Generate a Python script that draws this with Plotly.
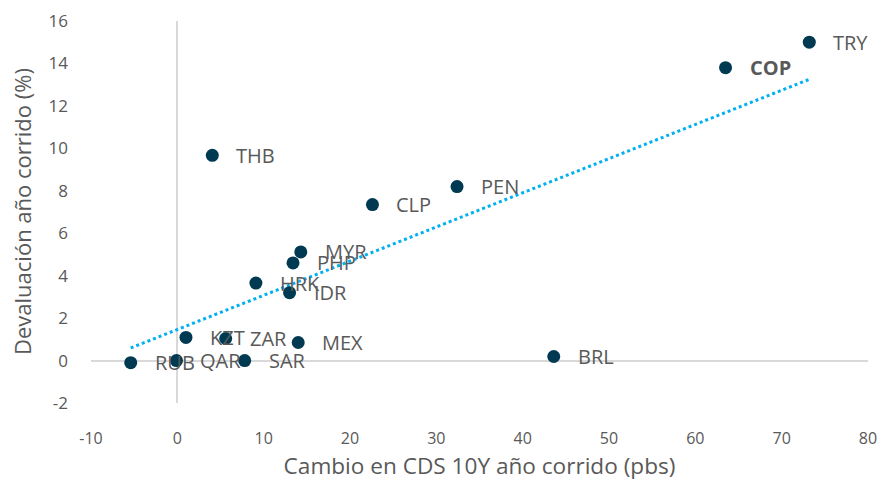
import numpy as np
import plotly.graph_objects as go

labels = ["RUB", "QAR", "KZT", "ZAR", "SAR", "THB", "MEX", "HRK", "IDR",
          "PHP", "MYR", "CLP", "PEN", "BRL", "COP", "TRY"]
cds_change = [-5.4, -0.1, 1.0, 5.6, 7.8, 4.05, 14.0, 9.1, 13.0,
              13.4, 14.3, 22.6, 32.4, 43.6, 63.5, 73.2]
devaluation = [-0.1, 0.0, 1.09, 1.04, 0.0, 9.67, 0.85, 3.65, 3.2,
               4.6, 5.12, 7.35, 8.2, 0.19, 13.8, 15.0]
bold_labels = ["COP"]

x_ticks = [-10, 0, 10, 20, 30, 40, 50, 60, 70, 80]
y_ticks = [-2, 0, 2, 4, 6, 8, 10, 12, 14, 16]

NAVY = "#003A52"
GRAY = "#595959"
CYAN = "#00B0F0"

# Linear trendline (least squares) over the data, like the spreadsheet trendline
slope, intercept = np.polyfit(cds_change, devaluation, 1)
tx = np.array([min(cds_change), max(cds_change)])
ty = slope * tx + intercept

fig = go.Figure()
fig.add_trace(go.Scatter(
    x=tx, y=ty, mode="lines",
    line=dict(color=CYAN, width=3, dash="dot"),
    hoverinfo="skip", showlegend=False))
fig.add_trace(go.Scatter(
    x=cds_change, y=devaluation, mode="markers",
    marker=dict(color=NAVY, size=13),
    showlegend=False))

for lab, xv, yv in zip(labels, cds_change, devaluation):
    txt = f"<b>{lab}</b>" if lab in bold_labels else lab
    fig.add_annotation(x=xv, y=yv, text=txt, showarrow=False,
                       xanchor="left", yanchor="middle", xshift=22,
                       font=dict(family="Open Sans", size=20, color=GRAY))

# Y-axis title placed as rotated annotation to match the reference position
fig.add_annotation(xref="paper", yref="paper", x=0, y=0.5,
                   text="Devaluación año corrido (%)", textangle=-90,
                   showarrow=False, xanchor="center", yanchor="middle",
                   xshift=-69,
                   font=dict(family="Open Sans", size=22, color=GRAY))

fig.update_layout(
    width=896, height=485,
    margin=dict(l=83, r=36, t=13, b=90),
    paper_bgcolor="white", plot_bgcolor="white",
    font=dict(family="Open Sans", color=GRAY),
    xaxis=dict(
        range=[-10, 80], tickvals=x_ticks, ticktext=[str(v) for v in x_ticks],
        showgrid=False, zeroline=True, zerolinecolor="#D9D9D9", zerolinewidth=2,
        showline=False, ticks="", ticklabelstandoff=24, automargin=False,
        tickfont=dict(family="Open Sans", size=16, color=GRAY),
        title=dict(text="Cambio en CDS 10Y año corrido (pbs)", standoff=10,
                   font=dict(family="Open Sans", size=22.6, color=GRAY)),
    ),
    yaxis=dict(
        range=[-2, 16], tickvals=y_ticks, ticktext=[str(v) for v in y_ticks],
        showgrid=False, zeroline=True, zerolinecolor="#D9D9D9", zerolinewidth=2,
        showline=False, ticks="", ticklabelstandoff=22, automargin=False,
        tickfont=dict(family="Open Sans", size=17, color=GRAY),
    ),
)

fig.write_html("out.html")
